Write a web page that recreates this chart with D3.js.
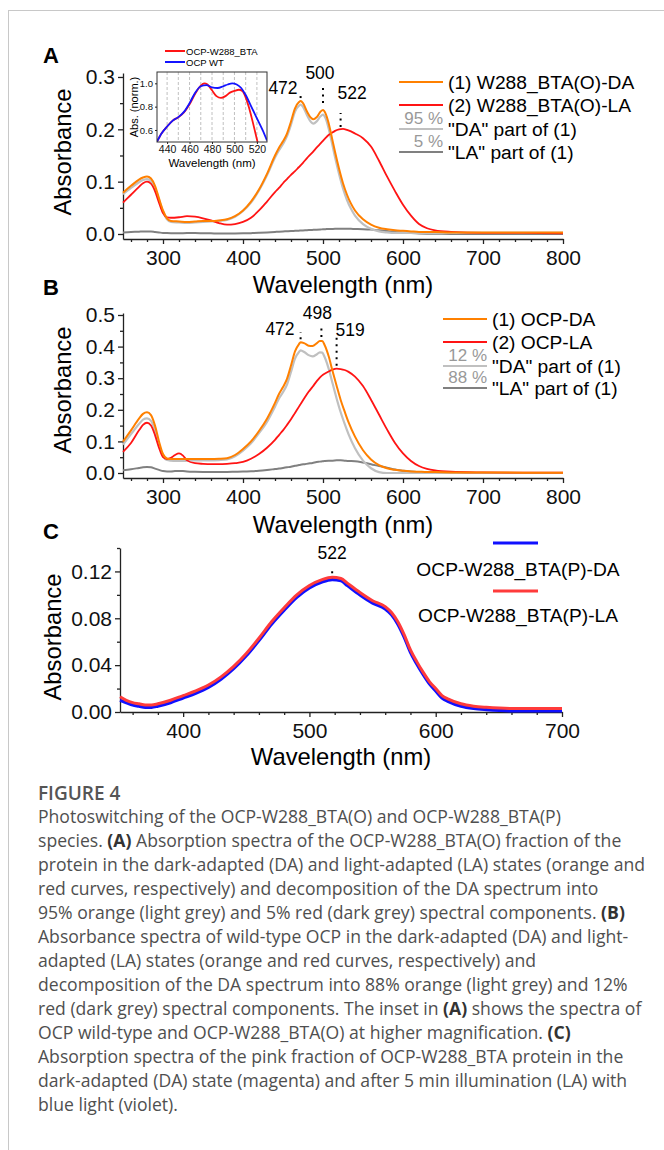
<!DOCTYPE html>
<html><head><meta charset="utf-8">
<script src="https://cdn.jsdelivr.net/npm/d3@7"></script>
<style>
html,body{margin:0;padding:0;background:#fff;}
svg{display:block;}
.axis path,.axis line{stroke:#222;stroke-width:1.3;}
.axis text{font-family:"Liberation Sans",Arial,sans-serif;fill:#111;}
</style></head>
<body>
<svg id="fig" width="664" height="1150"></svg>
<script>
// ---------- DATA ----------
// Panel A
const wlA = [250,260,270,275,280,285,290,295,300,305,310,320,330,340,350,360,370,380,390,400,410,420,430,440,445,450,455,460,465,470,472,475,480,485,488,492,497,500,503,507,510,515,520,525,530,535,540,550,560,570,580,590,600,610,620,630,640,660,700,750,800];
const orangeA = [0.079,0.092,0.104,0.108,0.110,0.106,0.092,0.068,0.045,0.030,0.025,0.024,0.023,0.024,0.025,0.025,0.026,0.028,0.034,0.045,0.062,0.085,0.115,0.150,0.165,0.177,0.192,0.215,0.240,0.252,0.254,0.250,0.234,0.222,0.219,0.223,0.234,0.237,0.231,0.212,0.192,0.157,0.125,0.097,0.075,0.058,0.045,0.028,0.018,0.012,0.009,0.007,0.006,0.005,0.004,0.004,0.004,0.003,0.003,0.003,0.003];
const redA = [0.060,0.075,0.090,0.097,0.100,0.096,0.082,0.060,0.040,0.032,0.031,0.032,0.034,0.033,0.030,0.026,0.021,0.018,0.019,0.023,0.031,0.045,0.062,0.080,0.088,0.097,0.105,0.113,0.120,0.128,0.131,0.136,0.145,0.153,0.158,0.165,0.173,0.178,0.183,0.189,0.192,0.197,0.200,0.201,0.199,0.196,0.192,0.183,0.167,0.140,0.110,0.082,0.056,0.035,0.019,0.011,0.007,0.004,0.002,0.002,0.001];
const daPartA = [0.076,0.088,0.099,0.103,0.105,0.101,0.088,0.065,0.043,0.028,0.023,0.022,0.021,0.022,0.023,0.024,0.025,0.027,0.033,0.044,0.060,0.083,0.112,0.146,0.160,0.172,0.187,0.209,0.234,0.245,0.247,0.243,0.227,0.214,0.211,0.215,0.225,0.228,0.222,0.202,0.182,0.147,0.115,0.087,0.065,0.048,0.035,0.019,0.010,0.005,0.003,0.002,0.002,0.002,0.002,0.002,0.002,0.002,0.002,0.002,0.002];
const laPartA = [0.003,0.004,0.0045,0.005,0.005,0.005,0.004,0.003,0.002,0.0017,0.0016,0.0016,0.0017,0.0017,0.0015,0.0013,0.001,0.001,0.001,0.0012,0.0016,0.0022,0.003,0.004,0.0044,0.0048,0.0053,0.0057,0.006,0.0064,0.0066,0.0068,0.0073,0.0077,0.008,0.0083,0.0087,0.009,0.0092,0.0095,0.0096,0.0099,0.010,0.010,0.010,0.0098,0.0096,0.0092,0.0084,0.007,0.0055,0.004,0.0028,0.0018,0.001,0.0006,0.0004,0.0002,0.0001,0.0001,0.0001];

// Panel A inset
const wlInsetMut = [431,435,440,445,450,455,460,465,470,473,476,480,484,488,492,496,500,504,507,510,513,516,519,521];
const insetMut = [0.50,0.57,0.63,0.68,0.71,0.75,0.82,0.91,0.98,1.00,0.99,0.94,0.89,0.875,0.89,0.92,0.935,0.945,0.935,0.88,0.79,0.68,0.56,0.48];
const wlInsetWT = [431,435,440,445,450,455,460,465,470,475,480,485,490,494,498,502,506,510,515,520,525,529];
const insetWT = [0.50,0.57,0.63,0.68,0.71,0.755,0.83,0.92,0.975,0.985,0.965,0.96,0.975,0.99,1.0,0.99,0.96,0.90,0.80,0.70,0.60,0.51];

// Panel B
const wlB = [250,260,270,275,280,285,290,295,300,305,310,315,320,325,330,340,350,360,370,380,390,400,410,420,430,440,445,450,455,460,465,470,472,477,482,487,492,496,499,502,507,512,517,522,527,532,540,550,560,570,580,590,600,610,620,630,640,660,700,750,800];
const orangeB = [0.099,0.135,0.172,0.187,0.192,0.183,0.150,0.100,0.060,0.046,0.044,0.044,0.044,0.044,0.044,0.044,0.044,0.044,0.045,0.047,0.057,0.076,0.100,0.133,0.172,0.222,0.250,0.272,0.298,0.340,0.385,0.408,0.414,0.410,0.403,0.402,0.410,0.418,0.418,0.405,0.370,0.322,0.276,0.232,0.195,0.160,0.115,0.072,0.043,0.025,0.015,0.010,0.007,0.005,0.004,0.003,0.003,0.002,0.002,0.001,0.001];
const redB = [0.067,0.095,0.135,0.152,0.159,0.150,0.120,0.080,0.050,0.044,0.048,0.057,0.062,0.055,0.040,0.031,0.029,0.028,0.028,0.029,0.031,0.035,0.045,0.060,0.080,0.105,0.120,0.135,0.152,0.170,0.190,0.210,0.218,0.238,0.257,0.273,0.290,0.302,0.309,0.314,0.321,0.327,0.330,0.329,0.326,0.320,0.305,0.275,0.232,0.185,0.138,0.095,0.062,0.038,0.022,0.013,0.008,0.004,0.002,0.001,0.001];
const daPartB = [0.090,0.123,0.155,0.169,0.173,0.165,0.136,0.090,0.054,0.041,0.039,0.038,0.038,0.038,0.039,0.040,0.040,0.040,0.041,0.043,0.053,0.071,0.094,0.126,0.162,0.210,0.236,0.256,0.280,0.320,0.362,0.383,0.388,0.382,0.373,0.369,0.375,0.382,0.381,0.367,0.331,0.283,0.236,0.193,0.156,0.122,0.078,0.039,0.015,0.003,0.0,0.0,0.0,0.0,0.0,0.0,0.0,0.0,0.0,0.0,0.0];
const laPartB = [0.009,0.012,0.016,0.018,0.019,0.018,0.014,0.010,0.006,0.005,0.005,0.006,0.0065,0.006,0.005,0.004,0.0035,0.0034,0.0034,0.0035,0.004,0.0045,0.0055,0.007,0.0095,0.0125,0.014,0.016,0.018,0.020,0.023,0.025,0.026,0.028,0.030,0.032,0.035,0.036,0.037,0.038,0.039,0.039,0.040,0.040,0.039,0.038,0.037,0.033,0.028,0.022,0.017,0.011,0.0075,0.0045,0.0027,0.0016,0.001,0.0005,0.0002,0.0001,0.0001];

// Panel C
const wlC = [350,355,360,365,370,375,380,390,400,410,420,430,440,450,460,470,480,490,500,510,518,525,530,540,550,560,565,570,575,580,585,590,595,600,605,610,620,630,640,660,680,700];
const daC = [0.010,0.008,0.006,0.005,0.004,0.004,0.005,0.008,0.012,0.016,0.021,0.028,0.037,0.048,0.061,0.075,0.087,0.098,0.106,0.111,0.113,0.112,0.108,0.100,0.093,0.088,0.083,0.075,0.064,0.051,0.041,0.032,0.024,0.018,0.012,0.009,0.005,0.003,0.002,0.001,0.001,0.001];
const laC = [0.013,0.010,0.008,0.007,0.006,0.006,0.007,0.010,0.014,0.018,0.023,0.030,0.039,0.050,0.063,0.077,0.089,0.100,0.108,0.113,0.115,0.114,0.110,0.102,0.095,0.090,0.085,0.077,0.066,0.053,0.043,0.034,0.026,0.020,0.014,0.011,0.007,0.005,0.004,0.003,0.003,0.003];

// Ticks and labels
const xTicksAB = [300,400,500,600,700,800];
const yTicksA = [0.0,0.1,0.2,0.3];
const yTicksB = [0.0,0.1,0.2,0.3,0.4,0.5];
const xTicksC = [400,500,600,700];
const yTicksC = [0.00,0.04,0.08,0.12];
const xTicksInset = [440,460,480,500,520];
const yTicksInset = [0.6,0.8,1.0];
const legendA = ["(1) W288_BTA(O)-DA","(2) W288_BTA(O)-LA","\"DA\" part of (1)","\"LA\" part of (1)"];
const pctA = ["95 %","5 %"];
const legendB = ["(1) OCP-DA","(2) OCP-LA","\"DA\" part of (1)","\"LA\" part of (1)"];
const pctB = ["12 %","88 %"];
const legendC = ["OCP-W288_BTA(P)-DA","OCP-W288_BTA(P)-LA"];
const legendInset = ["OCP-W288_BTA","OCP WT"];
const peaksA = [{label:"472", wl:472, s:"orange"},{label:"500", wl:500, s:"orange"},{label:"522", wl:522, s:"red"}];
const peaksB = [{label:"472", wl:472, s:"orange"},{label:"498", wl:498, s:"orange"},{label:"519", wl:517, s:"red"}];
const peaksC = [{label:"522", wl:518, s:"red"}];
const captionTitle = "FIGURE 4";
const captionLines = [
 "Photoswitching of the OCP-W288_BTA(O) and OCP-W288_BTA(P)",
 "species. **(A)** Absorption spectra of the OCP-W288_BTA(O) fraction of the",
 "protein in the dark-adapted (DA) and light-adapted (LA) states (orange and",
 "red curves, respectively) and decomposition of the DA spectrum into",
 "95% orange (light grey) and 5% red (dark grey) spectral components. **(B)**",
 "Absorbance spectra of wild-type OCP in the dark-adapted (DA) and light-",
 "adapted (LA) states (orange and red curves, respectively) and",
 "decomposition of the DA spectrum into 88% orange (light grey) and 12%",
 "red (dark grey) spectral components. The inset in **(A)** shows the spectra of",
 "OCP wild-type and OCP-W288_BTA(O) at higher magnification. **(C)**",
 "Absorption spectra of the pink fraction of OCP-W288_BTA protein in the",
 "dark-adapted (DA) state (magenta) and after 5 min illumination (LA) with",
 "blue light (violet)."
];

// ---------- DRAWING ----------
const FONT = '"Liberation Sans", Arial, sans-serif';
const COL = {orange:"#ff8000", red:"#ff1414", lgrey:"#c0c0c0", dgrey:"#808080", blue:"#1010ff", redC:"#ff3b3b"};
const svg = d3.select("#fig");

// frame
svg.append("line").attr("x1",8).attr("x2",664).attr("y1",10.5).attr("y2",10.5).attr("stroke","#c8c8c8");
svg.append("line").attr("x1",8.5).attr("x2",8.5).attr("y1",10).attr("y2",1150).attr("stroke","#c8c8c8");

function interp(wl, vals, w){
  const i = d3.bisectLeft(wl, w);
  if (i <= 0) return vals[0];
  if (i >= wl.length) return vals[vals.length-1];
  const t = (w - wl[i-1])/(wl[i]-wl[i-1]);
  return vals[i-1] + t*(vals[i]-vals[i-1]);
}

function drawAxes(g, x, y, o){
  const y0 = y.range()[0], x0 = x.range()[0];
  const xa = g.append("g").attr("class","axis").attr("transform",`translate(0,${y0})`)
    .call(d3.axisBottom(x).tickValues(o.xMajor).tickSize(5).tickPadding(6).tickSizeOuter(0).tickFormat(d3.format("d")));
  xa.selectAll("text").style("font-size","21px");
  g.append("g").attr("class","axis").attr("transform",`translate(0,${y0})`)
    .call(d3.axisBottom(x).tickValues(o.xMinor).tickSize(3).tickSizeOuter(0).tickFormat(""))
    .select(".domain").remove();
  const ya = g.append("g").attr("class","axis").attr("transform",`translate(${x0},0)`)
    .call(d3.axisLeft(y).tickValues(o.yMajor).tickSize(5).tickPadding(3).tickSizeOuter(0).tickFormat(d3.format(o.yFmt)));
  ya.selectAll("text").style("font-size","21px");
  g.append("g").attr("class","axis").attr("transform",`translate(${x0},0)`)
    .call(d3.axisLeft(y).tickValues(o.yMinor).tickSize(3).tickSizeOuter(0).tickFormat(""))
    .select(".domain").remove();
  g.append("text").attr("x", (x.range()[0]+x.range()[1])/2).attr("y", y0 + o.xTitleDy)
    .attr("text-anchor","middle").style("font-family",FONT).style("font-size","23.8px").text("Wavelength (nm)");
  g.append("text").attr("transform",`translate(${o.yTitleX},${o.yTitleY}) rotate(-90)`)
    .attr("text-anchor","middle").style("font-family",FONT).style("font-size","23.8px").text("Absorbance");
  g.append("text").attr("x",43).attr("y",o.letterY).style("font-family",FONT).style("font-weight","bold")
    .style("font-size","22px").text(o.letter);
}

function drawSeries(g, x, y, wl, vals, color, width){
  const line = d3.line().x(d=>x(d[0])).y(d=>y(d[1])).curve(d3.curveMonotoneX);
  g.append("path").datum(d3.zip(wl, vals)).attr("d", line).attr("fill","none")
    .attr("stroke", color).attr("stroke-width", width).attr("stroke-linejoin","round");
}

function dotted(g, x1, y1, y2){
  g.append("line").attr("x1",x1).attr("x2",x1).attr("y1",y1).attr("y2",y2)
    .attr("stroke","#000").attr("stroke-width",2).attr("stroke-dasharray","2,4.5");
}
function label(g, x, y, t, anchor, size){
  g.append("text").attr("x",x).attr("y",y).attr("text-anchor",anchor||"start")
    .style("font-family",FONT).style("font-size",(size||17.5)+"px").text(t);
}

function minorRange(a,b,step,majors){
  return d3.range(a,b+0.0001,step).map(v=>+v.toFixed(4)).filter(v=>!majors.some(m=>Math.abs(m-v)<1e-6));
}

// ---------- Panel A ----------
{
  const g = svg.append("g");
  const x = d3.scaleLinear().domain([250,800]).range([123,563]);
  const y = d3.scaleLinear().domain([-0.00956,0.3076]).range([239,73]);
  drawAxes(g,x,y,{xMajor:xTicksAB, xMinor:minorRange(260,780,20,xTicksAB), yMajor:yTicksA,
    yMinor:[0.05,0.15,0.25], yFmt:".1f", xTitleDy:54, yTitleX:71, yTitleY:152, letter:"A", letterY:63});
  drawSeries(g,x,y,wlA,laPartA,COL.dgrey,2);
  drawSeries(g,x,y,wlA,daPartA,COL.lgrey,2.2);
  drawSeries(g,x,y,wlA,redA,COL.red,1.8);
  drawSeries(g,x,y,wlA,orangeA,COL.orange,2);
  const S = {orange:orangeA, red:redA};
  const pk = peaksA.map(p=>({...p, px:x(p.wl), py:y(interp(wlA,S[p.s],p.wl))}));
  dotted(g,pk[0].px,pk[0].py-3,pk[0].py-6);
  label(g,pk[0].px-3,pk[0].py-7,pk[0].label,"end");
  dotted(g,pk[1].px,pk[1].py-7,pk[1].py-24);
  label(g,pk[1].px-3,pk[1].py-31,pk[1].label,"middle");
  dotted(g,pk[2].px,pk[2].py-2,pk[2].py-16);
  label(g,pk[2].px-3,pk[2].py-30,pk[2].label,"start");
  const cols = [COL.orange,COL.red,COL.lgrey,COL.dgrey];
  const rows = [82,105,129,152];
  legendA.forEach((t,i)=>{
    g.append("line").attr("x1",399).attr("x2",443).attr("y1",rows[i]).attr("y2",rows[i]).attr("stroke",cols[i]).attr("stroke-width",2);
    label(g,448,rows[i]+7,t,"start",19.2);
  });
  pctA.forEach((t,i)=>{
    g.append("text").attr("x",443).attr("y",rows[i+2]-5).attr("text-anchor","end")
      .style("font-family",FONT).style("font-size","17px").style("fill","#999").text(t);
  });

  // inset
  const ix = d3.scaleLinear().domain([431,529]).range([157,267]);
  const iy = d3.scaleLinear().domain([0.497,1.097]).range([142,72]);
  const ig = g.append("g");
  ig.selectAll(".grid").data(d3.range(440,521,10)).join("line")
    .attr("x1",d=>ix(d)).attr("x2",d=>ix(d)).attr("y1",72).attr("y2",142)
    .attr("stroke","#b0b0b0").attr("stroke-width",0.8).attr("stroke-dasharray","3,2");
  ig.append("defs").append("clipPath").attr("id","insclip").append("rect")
    .attr("x",157).attr("y",72).attr("width",110).attr("height",70);
  const cg = ig.append("g").attr("clip-path","url(#insclip)");
  drawSeries(cg,ix,iy,wlInsetMut,insetMut,"#ff1414",1.8);
  drawSeries(cg,ix,iy,wlInsetWT,insetWT,"#1414ff",1.8);
  ig.append("rect").attr("x",157).attr("y",72).attr("width",110).attr("height",70)
    .attr("fill","none").attr("stroke","#333").attr("stroke-width",1);
  const ixa = ig.append("g").attr("class","axis").attr("transform","translate(0,142)")
    .call(d3.axisBottom(ix).tickValues(xTicksInset).tickSize(2).tickPadding(2).tickSizeOuter(0));
  ixa.select(".domain").remove();
  ixa.selectAll("line").style("stroke-width",1);
  ixa.selectAll("text").style("font-size","10.5px");
  const iya = ig.append("g").attr("class","axis").attr("transform","translate(157,0)")
    .call(d3.axisLeft(iy).tickValues(yTicksInset).tickSize(2).tickPadding(2).tickSizeOuter(0).tickFormat(d3.format(".1f")));
  iya.select(".domain").remove();
  iya.selectAll("line").style("stroke-width",1);
  iya.selectAll("text").style("font-size","9.5px");
  ig.append("text").attr("x",212).attr("y",167).attr("text-anchor","middle")
    .style("font-family",FONT).style("font-size","11.5px").text("Wavelength (nm)");
  ig.append("text").attr("transform","translate(138,107) rotate(-90)").attr("text-anchor","middle")
    .style("font-family",FONT).style("font-size","11px").text("Abs. (norm.)");
  const icol = ["#ff1414","#1414ff"];
  [51,62].forEach((yy,i)=>{
    ig.append("line").attr("x1",165).attr("x2",185).attr("y1",yy).attr("y2",yy).attr("stroke",icol[i]).attr("stroke-width",2);
    label(ig,186,yy+3.5,legendInset[i],"start",9.5);
  });
}

// ---------- Panel B ----------
{
  const g = svg.append("g");
  const x = d3.scaleLinear().domain([250,800]).range([123,563]);
  const y = d3.scaleLinear().domain([-0.0158,0.5063]).range([478,313]);
  drawAxes(g,x,y,{xMajor:xTicksAB, xMinor:minorRange(260,780,20,xTicksAB), yMajor:yTicksB,
    yMinor:[0.05,0.15,0.25,0.35,0.45], yFmt:".1f", xTitleDy:55, yTitleX:71, yTitleY:390, letter:"B", letterY:295});
  drawSeries(g,x,y,wlB,laPartB,COL.dgrey,2);
  drawSeries(g,x,y,wlB,daPartB,COL.lgrey,2.2);
  drawSeries(g,x,y,wlB,redB,COL.red,1.8);
  drawSeries(g,x,y,wlB,orangeB,COL.orange,2);
  const S = {orange:orangeB, red:redB};
  const pk = peaksB.map(p=>({...p, px:x(p.wl), py:y(interp(wlB,S[p.s],p.wl))}));
  dotted(g,pk[0].px,pk[0].py-3,pk[0].py-10);
  label(g,pk[0].px-6,pk[0].py-7,pk[0].label,"end");
  dotted(g,pk[1].px,pk[1].py-4,pk[1].py-17);
  label(g,pk[1].px-4,pk[1].py-22,pk[1].label,"middle");
  dotted(g,pk[2].px,pk[2].py-3,pk[2].py-33);
  label(g,pk[2].px-1,pk[2].py-33,pk[2].label,"start");
  const cols = [COL.orange,COL.red,COL.lgrey,COL.dgrey];
  const rows = [319,342,366,388];
  legendB.forEach((t,i)=>{
    g.append("line").attr("x1",443).attr("x2",487).attr("y1",rows[i]).attr("y2",rows[i]).attr("stroke",cols[i]).attr("stroke-width",2);
    label(g,492,rows[i]+7,t,"start",19.2);
  });
  pctB.forEach((t,i)=>{
    g.append("text").attr("x",487).attr("y",rows[i+2]-5).attr("text-anchor","end")
      .style("font-family",FONT).style("font-size","17px").style("fill","#999").text(t);
  });
}

// ---------- Panel C ----------
{
  const g = svg.append("g");
  const x = d3.scaleLinear().domain([350,700]).range([120,562]);
  const y = d3.scaleLinear().domain([0,0.14]).range([712,548]);
  drawAxes(g,x,y,{xMajor:xTicksC, xMinor:minorRange(360,680,20,xTicksC), yMajor:yTicksC,
    yMinor:[0.02,0.06,0.10,0.14], yFmt:".2f", xTitleDy:53, yTitleX:61, yTitleY:637, letter:"C", letterY:539});
  drawSeries(g,x,y,wlC,daC,COL.blue,3.2);
  drawSeries(g,x,y,wlC,laC,COL.redC,3);
  const pk = peaksC.map(p=>({...p, px:x(p.wl), py:y(interp(wlC,laC,p.wl))}));
  dotted(g,pk[0].px,pk[0].py-4,pk[0].py-8);
  label(g,pk[0].px,pk[0].py-18,pk[0].label,"middle");
  const cols = [COL.blue,COL.redC];
  [[543,576],[591,622]].forEach((r,i)=>{
    g.append("line").attr("x1",493).attr("x2",538).attr("y1",r[0]).attr("y2",r[0]).attr("stroke",cols[i]).attr("stroke-width",3);
    label(g,518,r[1],legendC[i],"middle",19.2);
  });
}

// ---------- Caption ----------
{
  const g = svg.append("g").style("font-family",'"Open Sans", "Noto Sans", sans-serif').style("fill","#4f4f4f");
  g.append("text").attr("x",38).attr("y",800).style("font-size","19px").style("font-weight","600").style("fill","#555").text(captionTitle);
  captionLines.forEach((ln,i)=>{
    const t = g.append("text").attr("x",38).attr("y",823 + i*24).style("font-size","17.6px");
    ln.split(/(\*\*[^*]+\*\*)/).filter(s=>s.length).forEach(seg=>{
      if (seg.startsWith("**")) t.append("tspan").style("font-weight","700").style("fill","#333").text(seg.slice(2,-2));
      else t.append("tspan").text(seg);
    });
  });
}
</script>
</body></html>
